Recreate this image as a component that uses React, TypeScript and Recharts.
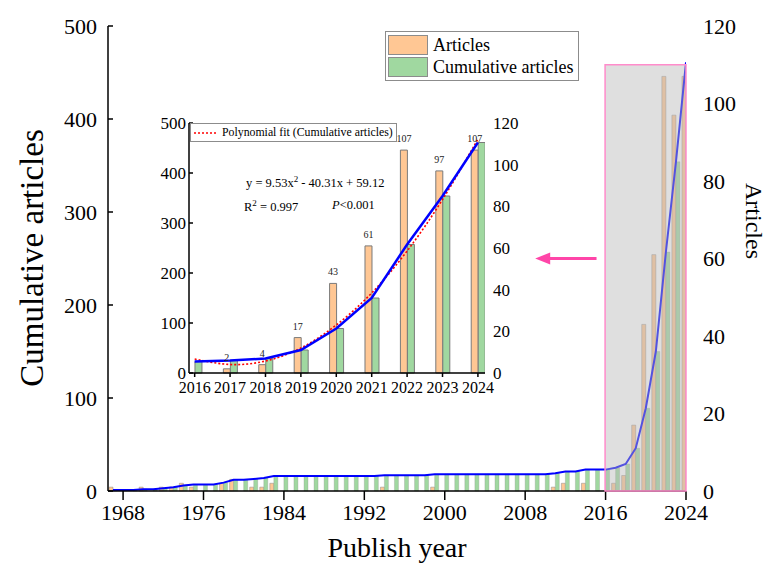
import React from 'react';
import {
  ComposedChart,
  Bar,
  Line,
  XAxis,
  YAxis,
  ReferenceArea,
  ReferenceLine,
  Legend,
  LabelList,
} from 'recharts';

// ---------- Main chart data ----------
const years = [
  1967, 1968, 1969, 1970, 1971, 1972, 1973, 1974, 1975, 1976, 1977, 1978, 1979, 1980, 1981, 1982, 1983,
  1984, 1985, 1986, 1987, 1988, 1989, 1990, 1991, 1992, 1993,
  1994, 1995, 1996, 1997, 1998, 1999, 2000, 2001, 2002, 2003, 2004, 2005, 2006, 2007, 2008, 2009, 2010,
  2011, 2012, 2013, 2014, 2015, 2016, 2017, 2018, 2019, 2020, 2021, 2022, 2023, 2024,
];
const articles = [
  1, 0, 0, 1, 0, 1, 1, 2, 1, 0, 0, 2, 3, 0, 1, 1, 2,
  0, 0, 0, 0, 0, 0, 0, 0, 0, 0,
  1, 0, 0, 0, 0, 1, 0, 0, 0, 0, 0, 0, 0, 0, 0, 0, 0,
  1, 2, 0, 2, 0, 0, 2, 4, 17, 43, 61, 107, 97, 107,
];
const cumulativeArticles = [
  1, 1, 1, 2, 2, 3, 4, 6, 7, 7, 7, 9, 12, 12, 13, 14, 16,
  16, 16, 16, 16, 16, 16, 16, 16, 16, 16,
  17, 17, 17, 17, 17, 18, 18, 18, 18, 18, 18, 18, 18, 18, 18, 18, 18,
  19, 21, 21, 23, 23, 23, 25, 29, 46, 89, 150, 257, 354, 461,
];
const mainYearTicks = [1968, 1976, 1984, 1992, 2000, 2008, 2016, 2024];
const cumulativeTicks = [0, 100, 200, 300, 400, 500];
const articleTicks = [0, 20, 40, 60, 80, 100, 120];

// ---------- Inset data ----------
const insetYears = [2016, 2017, 2018, 2019, 2020, 2021, 2022, 2023, 2024];
const insetArticles = [0, 2, 4, 17, 43, 61, 107, 97, 107];
const insetCumulative = [23, 25, 29, 46, 89, 150, 257, 354, 461];
const insetFit = [28, 17, 24, 50, 96, 160, 244, 347, 468];

const mainData = years.map((year, i) => ({
  year,
  articles: articles[i],
  cumulative: cumulativeArticles[i],
}));
const insetData = insetYears.map((year, i) => ({
  year,
  articles: insetArticles[i],
  cumulative: insetCumulative[i],
  fit: insetFit[i],
}));

const FONT = '"Liberation Serif", "Times New Roman", serif';
const ORANGE = '#FFC794';
const GREEN = '#A0D8A0';
const BAR_STROKE = '#8a8a8a';
const BLUE = '#0000FF';
const PINK = '#FF45A8';
const BOX_PINK = '#FF8CCB';

const RotLabel = (props: any) => {
  const { text, px, py, rot, size } = props;
  return (
    <text
      x={px}
      y={py}
      transform={`rotate(${rot} ${px} ${py})`}
      textAnchor="middle"
      dominantBaseline="central"
      fontSize={size}
      fontFamily={FONT}
      fill="#000"
    >
      {text}
    </text>
  );
};

const ArrowShape = (p: any) => {
  const { x1, y1, x2 } = p;
  const left = Math.min(x1, x2);
  const right = Math.max(x1, x2);
  return (
    <g>
      <line x1={left + 10} y1={y1} x2={right} y2={y1} stroke={PINK} strokeWidth={3} />
      <polygon points={`${left},${y1} ${left + 15},${y1 - 6} ${left + 15},${y1 + 6}`} fill={PINK} />
    </g>
  );
};

const MainLegend = () => (
  <div
    style={{
      border: '1px solid #8c8c8c',
      background: '#fff',
      padding: '2px 5px 2px 2px',
      fontFamily: FONT,
      fontSize: 18,
      lineHeight: '21px',
      color: '#000',
      width: 'max-content',
    }}
  >
    {[
      ['Articles', ORANGE],
      ['Cumulative articles', GREEN],
    ].map(([name, color]) => (
      <div key={name} style={{ display: 'flex', alignItems: 'center', height: 22 }}>
        <span
          style={{
            display: 'inline-block',
            width: 38,
            height: 18,
            background: color,
            border: '1px solid #8c8c8c',
            marginRight: 5,
          }}
        />
        {name}
      </div>
    ))}
  </div>
);

const InsetLegend = () => (
  <div
    style={{
      border: '1px solid #8c8c8c',
      background: '#fff',
      padding: '0px 3px 0px 2px',
      fontFamily: FONT,
      fontSize: 11.8,
      lineHeight: '17px',
      color: '#000',
      width: 'max-content',
      display: 'flex',
      alignItems: 'center',
    }}
  >
    <svg width={26} height={8} style={{ marginRight: 3 }}>
      <line x1={1} y1={4} x2={25} y2={4} stroke="#FF0000" strokeWidth={1.5} strokeDasharray="2 2" />
    </svg>
    Polynomial fit (Cumulative articles)
  </div>
);

const tickStyle = { fontSize: 22, fill: '#000', fontFamily: FONT };
const insetTick = { fontSize: 17, fill: '#000', fontFamily: FONT };
const axisLine = { stroke: '#000', strokeWidth: 1.5 };

export default function App() {
  return (
    <div style={{ position: 'absolute', left: 0, top: 0, width: 768, height: 570, background: '#fff', fontFamily: FONT }}>
      <ComposedChart
        width={768}
        height={570}
        data={mainData}
        margin={{ top: 26, right: 22, bottom: 0, left: 48 }}
        barGap={0}
      >
        <XAxis
          xAxisId="x"
          dataKey="year"
          type="number"
          domain={[1966.5, 2024]}
          ticks={mainYearTicks}
          interval={0}
          allowDataOverflow
          height={79}
          tickSize={9}
          tickMargin={4}
          tick={tickStyle}
          axisLine={axisLine}
          tickLine={axisLine}
          label={{ value: 'Publish year', position: 'insideBottom', offset: 13, fontSize: 28, fill: '#000', fontFamily: FONT }}
        />
        <XAxis
          xAxisId="top"
          orientation="top"
          type="number"
          domain={[1966.5, 2024]}
          height={0}
          tick={false}
          tickLine={false}
          axisLine={axisLine}
        />
        <YAxis
          yAxisId="left"
          orientation="left"
          width={60}
          domain={[0, 500]}
          ticks={cumulativeTicks}
          interval={0}
          tickSize={-5}
          tickMargin={16}
          tick={tickStyle}
          axisLine={axisLine}
          tickLine={axisLine}
          label={<RotLabel text="Cumulative articles" px={32} py={258} rot={-90} size={33} />}
        />
        <YAxis
          yAxisId="mirror"
          orientation="right"
          width={0}
          domain={[0, 500]}
          ticks={cumulativeTicks}
          interval={0}
          tick={false}
          tickSize={-5}
          axisLine={axisLine}
          tickLine={axisLine}
        />
        <YAxis
          yAxisId="right"
          orientation="right"
          width={60}
          domain={[0, 120]}
          ticks={articleTicks}
          interval={0}
          tickLine={false}
          axisLine={false}
          tickSize={6}
          tickMargin={11}
          tick={tickStyle}
          label={<RotLabel text="Articles" px={754} py={221} rot={90} size={24} />}
        />
        <Bar
          xAxisId="x"
          yAxisId="right"
          dataKey="articles"
          name="Articles"
          barSize={4}
          fill={ORANGE}
          stroke={BAR_STROKE}
          strokeWidth={0.5}
          isAnimationActive={false}
        />
        <Bar
          xAxisId="x"
          yAxisId="left"
          dataKey="cumulative"
          name="Cumulative articles"
          barSize={4}
          fill={GREEN}
          stroke={BAR_STROKE}
          strokeWidth={0.3}
          isAnimationActive={false}
        />
        <Line
          xAxisId="x"
          yAxisId="left"
          dataKey="cumulative"
          type="linear"
          stroke={BLUE}
          strokeWidth={2}
          dot={false}
          legendType="none"
          isAnimationActive={false}
        />
        <ReferenceArea
          xAxisId="x"
          yAxisId="right"
          x1={2015.95}
          x2={2024}
          y1={0}
          y2={110}
          fill="#b8b8b8"
          fillOpacity={0.45}
          stroke={BOX_PINK}
          strokeWidth={1.5}
          ifOverflow="visible"
          zIndex={1000}
        />
        <ReferenceLine
          xAxisId="x"
          yAxisId="left"
          segment={[
            { x: 2009.0, y: 250 },
            { x: 2015.1, y: 250 },
          ]}
          ifOverflow="visible"
          shape={ArrowShape}
        />
        <Legend
          layout="horizontal"
          verticalAlign="middle"
          align="center"
          wrapperStyle={{ left: 385, top: 31, width: 'auto', height: 'auto' }}
          content={() => <MainLegend />}
        />
      </ComposedChart>

      <div style={{ position: 'absolute', left: 135, top: 100, width: 400, height: 300 }}>
        <ComposedChart
          width={400}
          height={300}
          data={insetData}
          margin={{ top: 23, right: 10, bottom: 2, left: 14 }}
          barGap={0}
        >
          <XAxis
            xAxisId="x"
            dataKey="year"
            type="number"
            domain={[2015.84, 2024.2]}
            ticks={insetYears}
            interval={0}
            allowDataOverflow
            height={25}
            tickSize={4}
            tickMargin={5}
            tick={{ ...insetTick, fontSize: 16 }}
            axisLine={axisLine}
            tickLine={axisLine}
          />
          <XAxis
            xAxisId="top"
            orientation="top"
            type="number"
            domain={[2015.84, 2024.2]}
            height={0}
            tick={false}
            tickLine={false}
            axisLine={axisLine}
          />
          <YAxis
            yAxisId="left"
            width={40}
            domain={[0, 500]}
            ticks={cumulativeTicks}
            interval={0}
            tickSize={-4}
            tickMargin={7}
            tick={insetTick}
            axisLine={axisLine}
            tickLine={axisLine}
          />
          <YAxis
            yAxisId="mirror"
            orientation="right"
            width={0}
            domain={[0, 500]}
            ticks={cumulativeTicks}
            interval={0}
            tick={false}
            tickSize={-4}
            axisLine={axisLine}
            tickLine={axisLine}
          />
          <YAxis
            yAxisId="right"
            orientation="right"
            width={40}
            domain={[0, 120]}
            ticks={articleTicks}
            interval={0}
            tickLine={false}
            axisLine={false}
            tick={insetTick}
          />
          <Bar
            xAxisId="x"
            yAxisId="right"
            dataKey="articles"
            barSize={7}
            fill={ORANGE}
            stroke="#7a7a7a"
            strokeWidth={1}
            isAnimationActive={false}
          >
            <LabelList dataKey="articles" position="top" offset={8} fontSize={10} fill="#222" fontFamily={FONT} />
          </Bar>
          <Bar
            xAxisId="x"
            yAxisId="left"
            dataKey="cumulative"
            barSize={7}
            fill={GREEN}
            stroke="#7a7a7a"
            strokeWidth={1}
            isAnimationActive={false}
          />
          <Line
            xAxisId="x"
            yAxisId="left"
            dataKey="fit"
            type="natural"
            stroke="#FF0000"
            strokeWidth={1.6}
            strokeDasharray="2 2"
            dot={false}
            isAnimationActive={false}
          />
          <Line
            xAxisId="x"
            yAxisId="left"
            dataKey="cumulative"
            type="linear"
            stroke={BLUE}
            strokeWidth={2.5}
            dot={false}
            isAnimationActive={false}
          />
          <Legend
            layout="horizontal"
            verticalAlign="middle"
            align="center"
            wrapperStyle={{ left: 55, top: 23, width: 'auto', height: 'auto' }}
            content={() => <InsetLegend />}
          />
        </ComposedChart>
        <div style={{ position: 'absolute', left: 111, top: 74, fontSize: 12.5, fontFamily: FONT, color: '#000', whiteSpace: 'nowrap' }}>
          y = 9.53x<sup style={{ fontSize: 9 }}>2</sup> - 40.31x + 59.12
        </div>
        <div style={{ position: 'absolute', left: 109, top: 98, fontSize: 12.5, fontFamily: FONT, color: '#000', whiteSpace: 'nowrap' }}>
          R<sup style={{ fontSize: 9 }}>2</sup> = 0.997
        </div>
        <div style={{ position: 'absolute', left: 197, top: 98, fontSize: 12.5, fontFamily: FONT, color: '#000', whiteSpace: 'nowrap' }}>
          <i>P</i>&lt;0.001
        </div>
      </div>
    </div>
  );
}
